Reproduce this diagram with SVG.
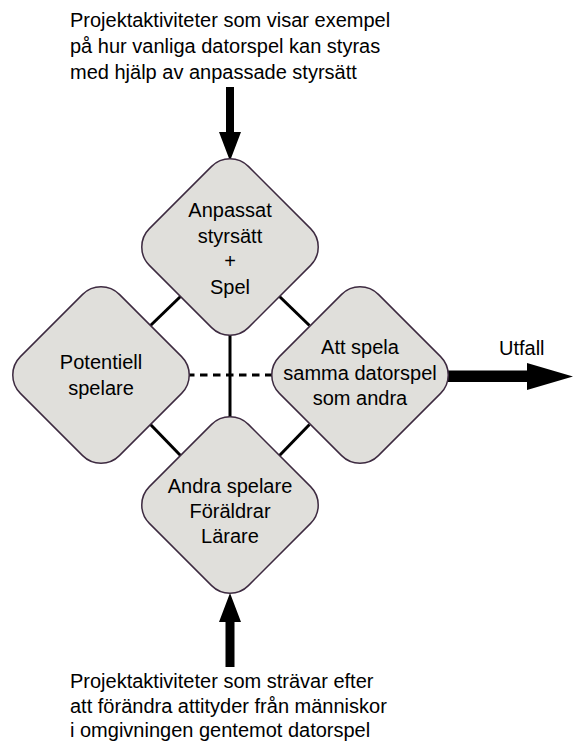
<svg xmlns="http://www.w3.org/2000/svg" width="573" height="742" viewBox="0 0 573 742">
<style>
.node rect{fill:#e0dfdb;stroke:#3d2a40;stroke-width:1.5}
text{font-family:"Liberation Sans",Arial,sans-serif;font-size:20px;fill:#000}
.nt{text-anchor:middle}
.conn line{stroke:#000;stroke-width:3}
.arrow{fill:#000}
</style>
<rect width="573" height="742" fill="#fff"/>
<g id="connectors" class="conn">
<line x1="230" y1="330" x2="230" y2="420" stroke-width="2.5"/>
<line x1="187" y1="375" x2="273" y2="375" stroke-width="4" stroke-dasharray="7.5 5.5"/>
<line x1="180.5" y1="296.5" x2="150.5" y2="325.5"/>
<line x1="279.5" y1="296.5" x2="309.5" y2="325.5"/>
<line x1="150.5" y1="424.5" x2="180.5" y2="455.5"/>
<line x1="279.5" y1="455.5" x2="309.5" y2="424.5"/>
<polygon class="arrow" points="226,87 234,87 234,132 241,132 230,161 219,132 226,132"/>
<polygon class="arrow" points="230,593 241,622 234.5,622 234.5,667 225.5,667 225.5,622 219,622"/>
<polygon class="arrow" points="446,370.5 527,370.5 527,363 573,376.5 527,390 527,382 446,382"/>
</g>
<g id="node-top" class="node">
<rect x="160" y="177" width="140" height="140" rx="26" transform="rotate(45 230 247)"/>
<text class="nt" x="230" y="217">Anpassat</text>
<text class="nt" x="230" y="243">styrsätt</text>
<text class="nt" x="230" y="268">+</text>
<text class="nt" x="230" y="294">Spel</text>
</g>
<g id="node-left" class="node">
<rect x="31" y="305" width="140" height="140" rx="26" transform="rotate(45 101 375)"/>
<text class="nt" x="101" y="369">Potentiell</text>
<text class="nt" x="101" y="395">spelare</text>
</g>
<g id="node-right" class="node">
<rect x="290" y="305" width="140" height="140" rx="26" transform="rotate(45 360 375)"/>
<text class="nt" x="360" y="354">Att spela</text>
<text class="nt" x="360" y="380">samma datorspel</text>
<text class="nt" x="360" y="405">som andra</text>
</g>
<g id="node-bottom" class="node">
<rect x="160" y="435" width="140" height="140" rx="26" transform="rotate(45 230 505)"/>
<text class="nt" x="230" y="493">Andra spelare</text>
<text class="nt" x="230" y="518">Föräldrar</text>
<text class="nt" x="230" y="543">Lärare</text>
</g>
<g id="label-top">
<text x="70" y="27">Projektaktiviteter som visar exempel</text>
<text x="70" y="53">på hur vanliga datorspel kan styras</text>
<text x="70" y="79">med hjälp av anpassade styrsätt</text>
</g>
<g id="label-bottom">
<text x="70" y="688">Projektaktiviteter som strävar efter</text>
<text x="70" y="713">att förändra attityder från människor</text>
<text x="70" y="737">i omgivningen gentemot datorspel</text>
</g>
<g id="label-outcome">
<text x="499" y="355">Utfall</text>
</g>
</svg>
